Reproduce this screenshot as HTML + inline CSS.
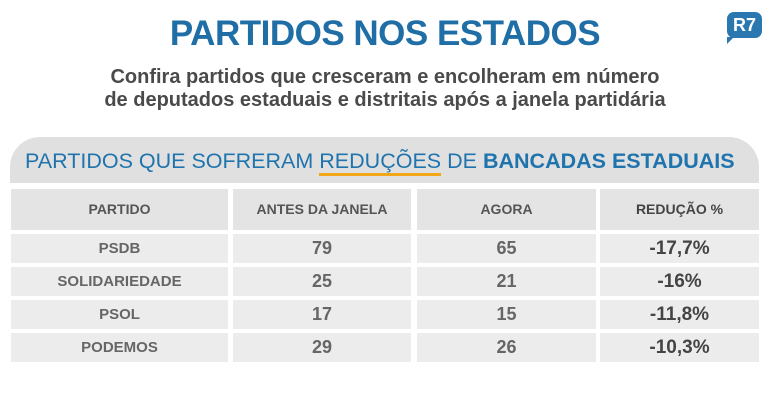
<!DOCTYPE html>
<html><head><meta charset="utf-8"><style>
*{margin:0;padding:0;box-sizing:border-box}
body{width:770px;height:420px;background:#fff;font-family:"Liberation Sans",sans-serif;position:relative;overflow:hidden}
.t{position:absolute;left:0;width:770px;text-align:center;top:14px;font-size:35px;font-weight:bold;color:#1f6ea6;letter-spacing:-0.5px}
.s{position:absolute;left:0;width:770px;text-align:center;top:66px;font-size:20px;font-weight:bold;color:#4a4a4a;line-height:23px}
.logo{position:absolute;left:727px;top:12px;width:35px;height:26px;background:#2b77b0;border-radius:7px;color:#fff;font-weight:bold;font-size:18px;text-align:center;line-height:26px}
.logo:after{content:"";position:absolute;left:0;bottom:-6px;border-left:7px solid #2b77b0;border-bottom:7px solid transparent}
.hp{position:absolute;left:10px;top:137px;width:749px;height:46px;background:#e0e0e0;border-radius:30px 30px 0 0;font-size:21.5px;color:#1f74ad;line-height:48px;padding-left:15px;white-space:nowrap}
.hp u{text-decoration:none;border-bottom:3px solid #f2a71b}
.c{position:absolute;background:#e4e4e4;text-align:center;font-weight:bold;color:#555}
.h{top:189px;height:41px;line-height:41px;font-size:14px}
.r{background:#ececec;height:29px;line-height:29px;font-size:15px;color:#666}
.n{font-size:18px;color:#666}
.p{font-size:19px;color:#444}
</style></head><body>
<div class="t">PARTIDOS NOS ESTADOS</div>
<div class="s">Confira partidos que cresceram e encolheram em número<br>de deputados estaduais e distritais após a janela partidária</div>
<div class="logo">R7</div>
<div class="hp">PARTIDOS QUE SOFRERAM <u>REDUÇÕES</u> DE <b>BANCADAS ESTADUAIS</b></div>
<div class="c h" style="left:11px;width:217px">PARTIDO</div>
<div class="c h" style="left:233px;width:178px">ANTES DA JANELA</div>
<div class="c h" style="left:417px;width:179px">AGORA</div>
<div class="c h" style="left:600px;width:159px;color:#444">REDUÇÃO %</div>

<div class="c r" style="left:11px;width:217px;top:234px">PSDB</div>
<div class="c r n" style="left:233px;width:178px;top:234px">79</div>
<div class="c r n" style="left:417px;width:179px;top:234px">65</div>
<div class="c r p" style="left:600px;width:159px;top:234px">-17,7%</div>

<div class="c r" style="left:11px;width:217px;top:267px">SOLIDARIEDADE</div>
<div class="c r n" style="left:233px;width:178px;top:267px">25</div>
<div class="c r n" style="left:417px;width:179px;top:267px">21</div>
<div class="c r p" style="left:600px;width:159px;top:267px">-16%</div>

<div class="c r" style="left:11px;width:217px;top:300px">PSOL</div>
<div class="c r n" style="left:233px;width:178px;top:300px">17</div>
<div class="c r n" style="left:417px;width:179px;top:300px">15</div>
<div class="c r p" style="left:600px;width:159px;top:300px">-11,8%</div>

<div class="c r" style="left:11px;width:217px;top:333px">PODEMOS</div>
<div class="c r n" style="left:233px;width:178px;top:333px">29</div>
<div class="c r n" style="left:417px;width:179px;top:333px">26</div>
<div class="c r p" style="left:600px;width:159px;top:333px">-10,3%</div>
</body></html>
